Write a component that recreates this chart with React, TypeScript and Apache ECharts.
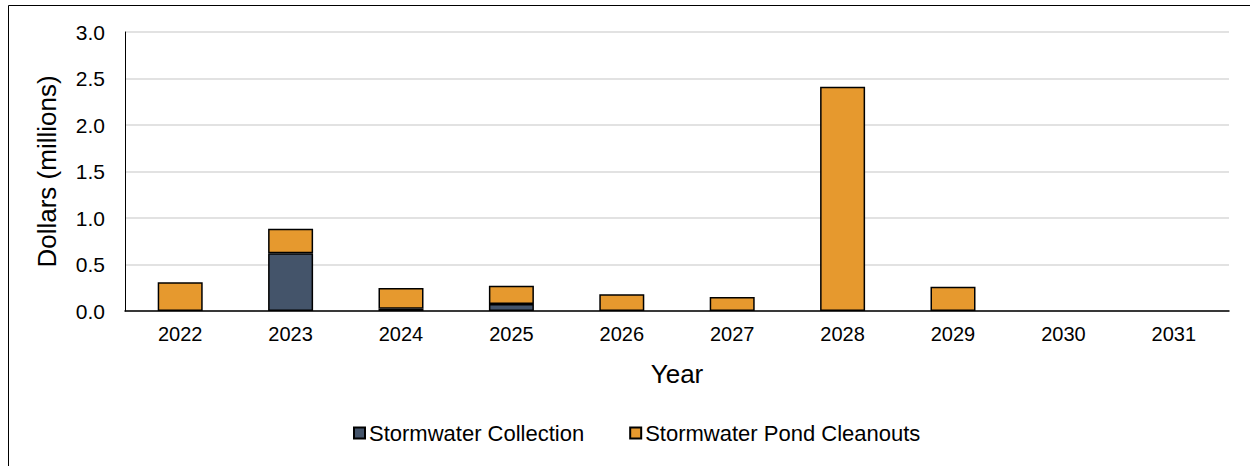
import React, { useEffect, useRef } from "react";
import * as echarts from "echarts";

const years = ["2022", "2023", "2024", "2025", "2026", "2027", "2028", "2029", "2030", "2031"];
const collection = [0, 0.62, 0.025, 0.075, 0, 0, 0, 0, 0, 0];
const pondCleanouts = [0.31, 0.265, 0.222, 0.197, 0.18, 0.15, 2.41, 0.26, 0, 0];

const FONT = "Liberation Sans, Arial, sans-serif";

const hideZero = (arr: number[]) => arr.map((v) => (v === 0 ? "-" : v));

export default function App() {
  const ref = useRef<HTMLDivElement>(null);
  useEffect(() => {
    if (!ref.current) return;
    const chart = echarts.init(ref.current, undefined, { renderer: "svg" });
    chart.setOption({
      animation: false,
      textStyle: { fontFamily: FONT },
      graphic: [
        {
          type: "rect",
          shape: { x: 8.5, y: 5.5, width: 1400, height: 700 },
          style: { fill: "none", stroke: "#000", lineWidth: 1 },
          silent: true,
        },
      ],
      grid: { left: 125, right: 21, top: 32, bottom: 155 },
      legend: {
        bottom: 17,
        left: 348,
        icon: "rect",
        itemWidth: 11,
        itemHeight: 11,
        itemGap: 45,
        textStyle: { fontSize: 22, color: "#000", fontFamily: FONT, padding: [0, 0, 0, -1] },
        data: ["Stormwater Collection", "Stormwater Pond Cleanouts"],
      },
      xAxis: {
        type: "category",
        data: years,
        name: "Year",
        nameLocation: "middle",
        nameGap: 50,
        nameTextStyle: { fontSize: 26, color: "#000", fontFamily: FONT },
        axisLine: { lineStyle: { color: "#000", width: 1.5 } },
        axisTick: { show: false },
        axisLabel: { fontSize: 20, color: "#000", margin: 13, fontFamily: FONT },
      },
      yAxis: {
        type: "value",
        min: 0,
        max: 3,
        interval: 0.5,
        name: "Dollars (millions)",
        nameLocation: "middle",
        nameGap: 65,
        nameTextStyle: { fontSize: 26, color: "#000", fontFamily: FONT },
        axisLine: { show: true, lineStyle: { color: "#000", width: 1 } },
        axisTick: { show: false },
        axisLabel: {
          fontSize: 21,
          color: "#000",
          margin: 20,
          fontFamily: FONT,
          formatter: (v: number) => v.toFixed(1),
        },
        splitLine: { lineStyle: { color: "#D9D9D9", width: 1.5 } },
      },
      series: [
        {
          name: "Stormwater Collection",
          type: "bar",
          stack: "total",
          data: hideZero(collection),
          barWidth: 45,
          itemStyle: { color: "#44546A", borderColor: "#000", borderWidth: 1.5 },
        },
        {
          name: "Stormwater Pond Cleanouts",
          type: "bar",
          stack: "total",
          data: hideZero(pondCleanouts),
          barWidth: 45,
          itemStyle: { color: "#E6992E", borderColor: "#000", borderWidth: 1.5 },
        },
      ],
    });
    return () => chart.dispose();
  }, []);
  return (
    <div
      ref={ref}
      style={{ position: "fixed", left: 0, top: 0, width: 1250, height: 466, background: "#fff" }}
    />
  );
}
